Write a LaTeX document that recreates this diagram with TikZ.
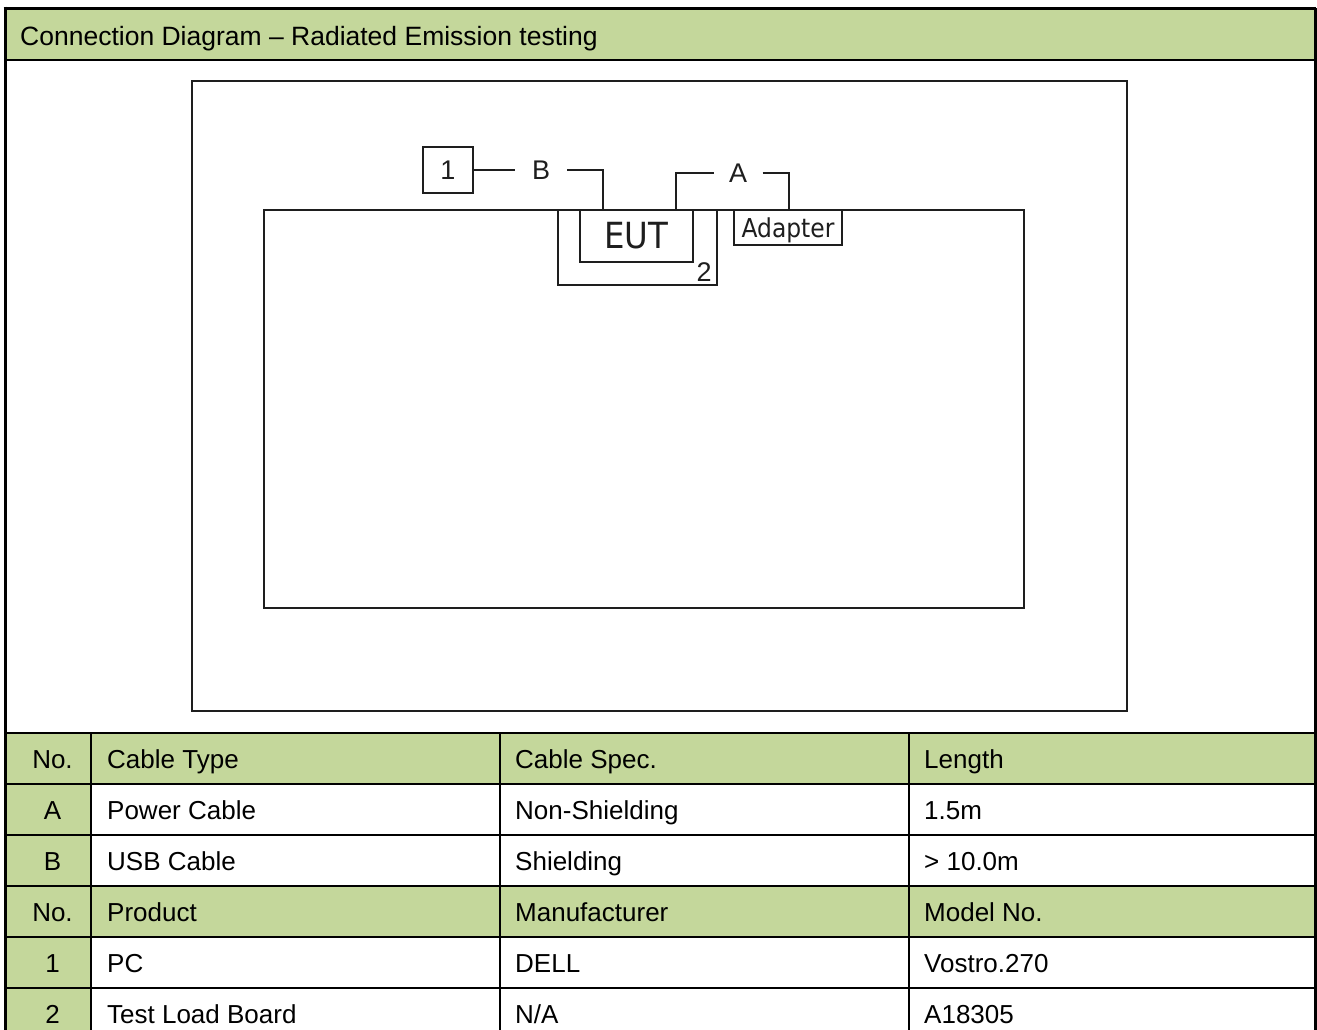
\documentclass[tikz,border=0pt]{standalone}
\usepackage{fontspec}
\setmainfont{Liberation Sans}
\newfontfamily\eutfont{DejaVu Sans Condensed}
\definecolor{hdr}{RGB}{196,215,155}
\definecolor{dk}{RGB}{30,30,30}
\begin{document}
\begin{tikzpicture}[x=1pt,y=-1pt,
  tline/.style={line width=2pt,black},
  cell/.style={anchor=base west,inner sep=0pt,font=\fontsize{26}{30}\selectfont},
  ccell/.style={anchor=base,inner sep=0pt,font=\fontsize{26}{30}\selectfont},
  dline/.style={line width=1.5pt,draw=dk},
  dbox/.style={draw=dk,line width=1.5pt,inner sep=0pt,outer sep=0pt},
  lbl/.style={inner sep=0pt,outer sep=0pt,font=\fontsize{27}{30}\selectfont,text=dk}
]
\useasboundingbox (0,0) rectangle (1317,1029);
\clip (0,0) rectangle (1317,1029);
\fill[white] (0,0) rectangle (1317,1029);

% ---- header band ----
\fill[hdr] (5,8) rectangle (1316,60);
\node[cell,font=\fontsize{26.5}{30}\selectfont] (title) at (20,45) {Connection Diagram – Radiated Emission testing};

% ---- table fills ----
\fill[hdr] (5,733) rectangle (1316,784);
\fill[hdr] (5,886) rectangle (1316,937);
\fill[hdr] (5,733) rectangle (91,1040);

% ---- table lines ----
\foreach \yy in {733,784,835,886,937,988}
  \draw[tline] (5,\yy) -- (1316,\yy);
\foreach \xx in {91,500,909}
  \draw[tline] (\xx,733) -- (\xx,1040);
\draw[line width=2.5pt] (5,60) -- (1316,60);
\draw[line width=3pt] (3.5,8) -- (1316,8);
\draw[line width=3pt] (5,6.5) -- (5,1040);
\draw[line width=2.5pt] (1315.5,8) -- (1315.5,1040);

% ---- table text ----
\foreach \r/\a/\b/\c/\d in {
  1/No./Cable Type/Cable Spec./Length,
  2/A/Power Cable/Non-Shielding/1.5m,
  3/B/USB Cable/Shielding/> 10.0m,
  4/No./Product/Manufacturer/Model No.,
  5/1/PC/DELL/Vostro.270,
  6/2/Test Load Board/N\slash A/A18305}{
  \pgfmathsetmacro{\yb}{733+51*(\r-1)+35}
  \node[ccell] (t\r a) at (52.5,\yb) {\a};
  \node[cell] (t\r b) at (107,\yb) {\b};
  \node[cell] (t\r c) at (515,\yb) {\c};
  \node[cell] (t\r d) at (924,\yb) {\d};
}

% ---- diagram ----
\node[dbox,minimum width=935,minimum height=630] (frame) at (659.5,396) {};
\node[dbox,minimum width=760,minimum height=398] (table) at (644,409) {};
\node[dbox,minimum width=159,minimum height=75] (board) at (637.5,247.5) {};
\node[dbox,minimum width=113,minimum height=52,font=\eutfont\fontsize{36}{40}\selectfont,text=dk] (eut) at (636.5,236) {EUT};
\node[dbox,minimum width=108,minimum height=35,text depth=0pt,font=\eutfont\fontsize{26}{30}\selectfont,text=dk] (adapter) at (788,227.5) {Adapter};
\node[dbox,minimum width=50,minimum height=46,font=\fontsize{27}{30}\selectfont,text=dk] (pc) at (448,170) {1};
\node[lbl] (num2) at (704,272) {2};

\node[lbl,minimum width=52] (lblB) at (541,170) {B};
\node[lbl,minimum width=49] (lblA) at (738,173) {A};
\coordinate (cB) at (603,210);
\coordinate (cA1) at (676,210);
\coordinate (cA2) at (789,210);

\draw[dline] (pc.east) -- (lblB.west);
\draw[dline] (lblB.east) -| (cB);
\draw[dline] (cA1) |- (lblA.west);
\draw[dline] (lblA.east) -| (cA2);
\end{tikzpicture}
\end{document}
